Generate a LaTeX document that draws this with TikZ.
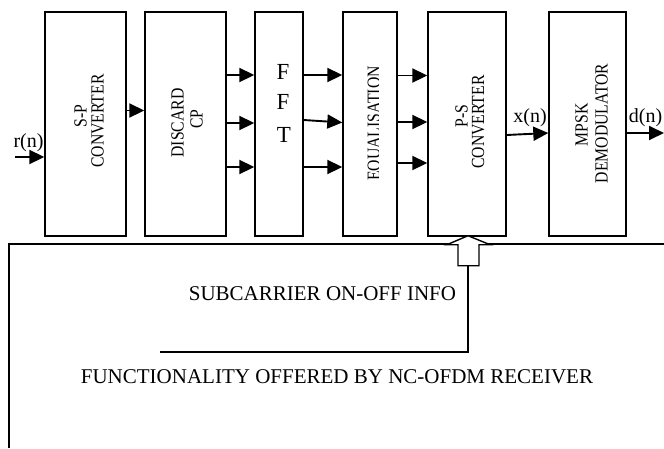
\documentclass[tikz,border=0pt]{standalone}
\usepackage{fontspec}
\setmainfont{Liberation Serif}
\newfontfamily\boxfont[FakeStretch=0.85]{Liberation Serif}
\usetikzlibrary{arrows.meta}
\begin{document}
\begin{tikzpicture}[x=1pt,y=-1pt,
  block/.style={draw, line width=1.4pt, inner sep=0pt, minimum height=224pt},
  vlabel/.style={font=\boxfont\fontsize{18.5}{22}\selectfont, rotate=90, inner sep=0pt, anchor=base},
  fftl/.style={font=\fontsize{23}{27}\selectfont, inner sep=0pt, anchor=base},
  sig/.style={font=\fontsize{20}{24}\selectfont, inner sep=0pt, anchor=base},
  bigtxt/.style={font=\fontsize{21}{25}\selectfont, inner sep=0pt, anchor=base},
  arr/.style={line width=1.9pt, -{Triangle[length=15pt,width=14pt]}},
  frameline/.style={line width=2pt},
  hollow/.style={line width=1.4pt, fill=white, line join=miter},
  fbline/.style={line width=1.6pt}]
\fill[white] (0,0) rectangle (664,448);
\useasboundingbox (0,0) rectangle (664,448);

% processing blocks
\node[block, minimum width=81pt] (sp)  at (85.5,124) {};
\node[block, minimum width=81pt] (dcp) at (185.5,124) {};
\node[block, minimum width=48pt] (fft) at (279,124) {};
\node[block, minimum width=54pt] (eq)  at (370,124) {};
\node[block, minimum width=78pt] (ps)  at (467,124) {};
\node[block, minimum width=77pt] (dem) at (587.5,124) {};

% block titles
\node[vlabel] (spa) at (86.5,116) {S-P};
\node[vlabel] (spb) at (103.5,121) {CONVERTER};
\node[vlabel] (dca) at (183.5,123) {DISCARD};
\node[vlabel] (dcb) at (202.5,119) {CP};
\node[fftl] (f1) at (283,79) {F};
\node[fftl] (f2) at (283,109) {F};
\node[fftl] (f3) at (284,142) {T};
\begin{scope}
  \clip (343,12) rectangle (378,236);
  \node[vlabel] (eqa) at (379.8,123.5) {EQUALISATION};
\end{scope}
\node[vlabel] (psa) at (467.5,116) {P-S};
\node[vlabel] (psb) at (484,122) {CONVERTER};
\node[vlabel] (dea) at (587.5,125) {MPSK};
\node[vlabel] (deb) at (607.5,123.5) {DEMODULATOR};

% signal flow
\coordinate (rin) at (15,157);
\coordinate (dout) at (664,133);
\draw[arr] (rin) -- (sp.west |- rin);
\draw[arr] (sp.east |- 0,110.5) -- (dcp.west |- 0,110.5);
\draw[arr] (dcp.east |- 0,75) -- (fft.west |- 0,75);
\draw[arr] (dcp.east |- 0,123) -- (fft.west |- 0,123);
\draw[arr] (dcp.east |- 0,167) -- (fft.west |- 0,167);
\draw[arr] (fft.east |- 0,75) -- (eq.west |- 0,75);
\draw[arr] (fft.east |- 0,120) -- (eq.west |- 0,122.5);
\draw[arr] (fft.east |- 0,167) -- (eq.west |- 0,167);
\draw[arr] (eq.east |- 0,75.5) -- (ps.west |- 0,75.5);
\draw[arr] (eq.east |- 0,122) -- (ps.west |- 0,122);
\draw[arr] (eq.east |- 0,163) -- (ps.west |- 0,163);
\draw[arr] (ps.east |- 0,135) -- (dem.west |- 0,133);
\draw[arr] (dem.east |- dout) -- (dout);

% signal names
\node[sig] (rl) at (28.5,147) {r(n)};
\node[sig] (xl) at (530,122) {x(n)};
\node[sig] (dl) at (645.5,122) {d(n)};

% receiver frame
\draw[frameline] (9,448) -- (9,244) -- (664,244);

% on-off information path into the P-S converter
\draw[hollow, shift={(ps.south)}]
  (1,-1) -- (23,8) -- (12,8) -- (12,29) -- (-9,29) -- (-9,8) -- (-20,8) -- cycle;
\coordinate (fb)  at (468,265);
\coordinate (fbc) at (468,352);
\coordinate (fbe) at (160,352);
\draw[fbline] (fb) -- (fbc) -- (fbe);

\node[bigtxt] (sub)  at (322.5,300) {SUBCARRIER ON-OFF INFO};
\node[bigtxt] (func) at (337,383) {FUNCTIONALITY OFFERED BY NC-OFDM RECEIVER};
\end{tikzpicture}
\end{document}
